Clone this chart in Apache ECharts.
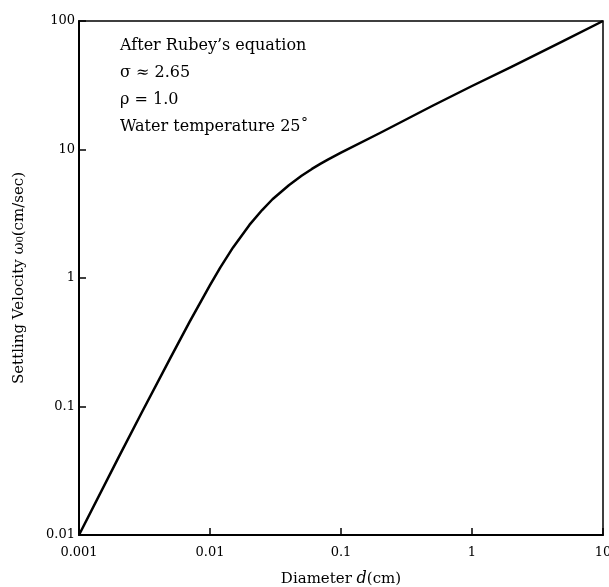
<!DOCTYPE html>
<html lang="en">
<head>
    <meta charset="UTF-8">
    <title>Settling Velocity</title>
    <script src="https://cdn.jsdelivr.net/npm/echarts@6/dist/echarts.min.js"></script>
    <style>body{margin:0;background:#fff;}</style>
</head>
<body>
    <div id="main" style="width:609px;height:587px;"></div>

    <script>
// diameter d (cm) and settling velocity (cm/sec)
var diameter = [0.001, 0.002, 0.003, 0.005, 0.007, 0.01, 0.012, 0.015, 0.02, 0.025, 0.03, 0.04, 0.05, 0.06, 0.07, 0.08, 0.1, 0.2, 0.5, 1, 2, 5, 10];
var velocity = [0.01, 0.04, 0.089, 0.24, 0.457, 0.88, 1.21, 1.73, 2.59, 3.38, 4.1, 5.27, 6.24, 7.06, 7.77, 8.39, 9.45, 13.5, 21.9, 31.2, 44, 70, 100];
var xTickLabels = ['0.001', '0.01', '0.1', '1', '10'];
var yTickLabels = ['0.01', '0.1', '1', '10', '100'];
var notes = ['After Rubey\u2019s equation', '\u03c3 \u2248 2.65', '\u03c1 = 1.0', 'Water temperature 25\u02da'];

function echartsCurve(){
    var myChart = echarts.init(document.getElementById('main'));
    var font = '"DejaVu Serif", "Liberation Serif", serif';

    var data = [];
    for (var i = 0; i < diameter.length; i++) {
        data.push([diameter[i], velocity[i]]);
    }

    // 按十进制幂次取刻度文字
    function decadeLabel(list, first) {
        return function (v) {
            var k = Math.round(Math.log10(v)) - first;
            return list[k] || '';
        };
    }

    var graphics = [];
    notes.forEach(function (t, i) {
        graphics.push({
            type: 'text',
            left: 120,
            top: 38 + i * 27,
            style: { text: t, font: '16px ' + font, fill: '#000' }
        });
    });

    myChart.setOption({
        animation: false,
        grid: {
            left: 79, right: 6, top: 21, bottom: 52,
            outerBoundsMode: 'none',
            show: true, borderColor: '#000', borderWidth: 1.5
        },
        xAxis: {
            type: 'log', logBase: 10, min: 0.001, max: 10,
            name: 'Diameter {i|d}(cm)',
            nameLocation: 'middle', nameGap: 36,
            nameTextStyle: {
                fontFamily: font, fontSize: 15, color: '#000',
                rich: { i: { fontFamily: font, fontSize: 16, fontStyle: 'italic', color: '#000' } }
            },
            axisLine: { lineStyle: { color: '#000', width: 2 } },
            axisTick: { inside: true, length: 7, lineStyle: { color: '#000', width: 1.5 } },
            splitLine: { show: false },
            axisLabel: {
                margin: 11, fontFamily: font, fontSize: 13, color: '#000',
                formatter: decadeLabel(xTickLabels, -3)
            }
        },
        yAxis: {
            type: 'log', logBase: 10, min: 0.01, max: 100,
            name: 'Settling Velocity \u03c9\u2080(cm/sec)',
            nameLocation: 'middle', nameGap: 52,
            nameTextStyle: { fontFamily: font, fontSize: 15, color: '#000' },
            axisLine: { lineStyle: { color: '#000', width: 2 } },
            axisTick: { inside: true, length: 7, lineStyle: { color: '#000', width: 1.5 } },
            splitLine: { show: false },
            axisLabel: {
                margin: 4, fontFamily: font, fontSize: 13, color: '#000',
                formatter: decadeLabel(yTickLabels, -2)
            }
        },
        graphic: graphics,
        series: [{
            type: 'line',
            data: data,
            smooth: false,
            showSymbol: false,
            lineStyle: { color: '#000', width: 2.5, join: 'round' }
        }]
    });
}

echartsCurve();
    </script>
</body>
</html>
